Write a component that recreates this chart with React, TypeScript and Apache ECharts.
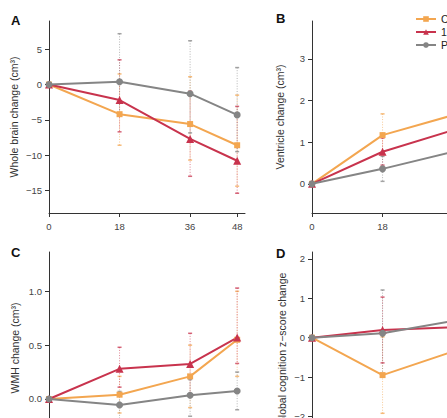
import React, { useEffect, useRef } from "react";
import * as echarts from "echarts";

// Visit months (shared x positions)
const months = [0, 18, 36, 48];
const xTicks = [0, 18, 36, 48];

// Group names and colours
const groups = ["CEE", "17β-E2", "Placebo"];
const groupColors = ["#F3A650", "#C8334D", "#858585"];
const groupSymbols = ["rect", "triangle", "circle"];
const groupSymbolSizes = [6, 8, 7];

// A: whole brain change (cm³)
const ceeBrain = [0, -4.2, -5.6, -8.6];
const e2Brain = [0, -2.2, -7.7, -10.8];
const plaBrain = [0, 0.4, -1.3, -4.3];
const ceeBrainLo = [0, -8.6, -10.7, -14.4];
const ceeBrainHi = [0, 1.5, 1.1, -1.5];
const e2BrainLo = [0, -6.7, -13.0, -15.4];
const e2BrainHi = [0, 3.5, -0.95, -3.1];
const plaBrainLo = [0, -4.4, -6.85, -9.5];
const plaBrainHi = [0, 7.2, 6.2, 2.4];

// B: ventricle change (cm³)
const ceeVent = [0, 1.17, 1.65, 2.1];
const e2Vent = [0, 0.77, 1.29, 1.7];
const plaVent = [0, 0.36, 0.77, 1.05];
const ceeVentLo = [0, 0.7, 1.0, 1.3];
const ceeVentHi = [0, 1.68, 2.3, 2.9];
const e2VentLo = [0, 0.45, 0.8, 1.0];
const e2VentHi = [0, 1.1, 1.8, 2.4];
const plaVentLo = [0, 0.06, 0.35, 0.5];
const plaVentHi = [0, 0.66, 1.2, 1.6];

// C: WMH change (cm³)
const ceeWmh = [0, 0.04, 0.21, 0.55];
const e2Wmh = [0, 0.28, 0.325, 0.57];
const plaWmh = [0, -0.055, 0.034, 0.074];
const ceeWmhLo = [0, -0.13, -0.08, 0.21];
const ceeWmhHi = [0, 0.21, 0.5, 1.0];
const e2WmhLo = [0, 0.11, 0.04, 0.33];
const e2WmhHi = [0, 0.48, 0.61, 1.03];
const plaWmhLo = [0, -0.2, -0.16, -0.1];
const plaWmhHi = [0, 0.07, 0.18, 0.25];

// D: global cognition z-score change
const ceeCog = [0, -0.95, -0.35, -0.2];
const e2Cog = [0, 0.195, 0.265, 0.3];
const plaCog = [0, 0.11, 0.425, 0.35];
const ceeCogLo = [0, -1.92, -1.3, -1.2];
const ceeCogHi = [0, 0.02, 0.6, 0.8];
const e2CogLo = [0, -0.64, -0.6, -0.6];
const e2CogHi = [0, 1.03, 1.1, 1.2];
const plaCogLo = [0, -0.99, -0.4, -0.5];
const plaCogHi = [0, 1.21, 1.25, 1.2];

const FONT = "'Liberation Sans', Arial, Helvetica, sans-serif";
const AXIS_COLOR = "#333";

const minus = (s: string) => s.replace("-", "\u2212");
const intFmt = (v: number) => minus(String(v));
const oneFmt = (v: number) => minus(v.toFixed(1));

type Panel = {
  means: number[][];
  lows: number[][];
  highs: number[][];
};

const panels: Panel[] = [
  {
    means: [ceeBrain, e2Brain, plaBrain],
    lows: [ceeBrainLo, e2BrainLo, plaBrainLo],
    highs: [ceeBrainHi, e2BrainHi, plaBrainHi],
  },
  {
    means: [ceeVent, e2Vent, plaVent],
    lows: [ceeVentLo, e2VentLo, plaVentLo],
    highs: [ceeVentHi, e2VentHi, plaVentHi],
  },
  {
    means: [ceeWmh, e2Wmh, plaWmh],
    lows: [ceeWmhLo, e2WmhLo, plaWmhLo],
    highs: [ceeWmhHi, e2WmhHi, plaWmhHi],
  },
  {
    means: [ceeCog, e2Cog, plaCog],
    lows: [ceeCogLo, e2CogLo, plaCogLo],
    highs: [ceeCogHi, e2CogHi, plaCogHi],
  },
];

const grids = [
  { left: 49, top: 21, width: 196, height: 192 },
  { left: 312, top: 21, width: 196, height: 192 },
  { left: 49, top: 252, width: 196, height: 192 },
  { left: 312, top: 252, width: 196, height: 194 },
];

function yAxis(
  gridIndex: number,
  min: number,
  max: number,
  ticks: number[],
  name: string,
  nameGap: number,
  fmt: (v: number) => string
) {
  return {
    type: "value",
    gridIndex,
    min,
    max,
    name,
    nameLocation: "middle",
    nameGap,
    nameTextStyle: { fontSize: 10.5, color: "#333", fontFamily: FONT },
    axisLine: { show: true, lineStyle: { color: AXIS_COLOR, width: 1 } },
    axisTick: {
      show: true,
      length: 4,
      customValues: ticks,
      lineStyle: { color: AXIS_COLOR, width: 1 },
    },
    axisLabel: {
      customValues: ticks,
      formatter: fmt,
      fontSize: 9.5,
      color: "#444",
      fontFamily: FONT,
      margin: 7,
    },
    splitLine: { show: false },
  };
}

// Bottom-row x axes sit below the visible area, so their labels are not drawn
function xAxis(gridIndex: number, showLabels: boolean) {
  return {
    type: "value",
    gridIndex,
    min: 0,
    max: 50,
    axisLine: { show: true, onZero: false, lineStyle: { color: AXIS_COLOR, width: 1 } },
    axisTick: {
      show: true,
      length: 4,
      customValues: xTicks,
      lineStyle: { color: AXIS_COLOR, width: 1 },
    },
    axisLabel: {
      show: showLabels,
      customValues: xTicks,
      formatter: (v: number) => String(v),
      fontSize: 9.5,
      color: "#444",
      fontFamily: FONT,
      margin: 8,
    },
    splitLine: { show: false },
  };
}

function errorBarSeries(p: number, g: number, panel: Panel) {
  const color = groupColors[g];
  const data = months
    .map((m, i) => [m, panel.lows[g][i], panel.highs[g][i]])
    .filter((d) => d[1] !== d[2]);
  return {
    type: "custom",
    name: `err-${p}-${g}`,
    xAxisIndex: p,
    yAxisIndex: p,
    z: 1,
    silent: true,
    clip: false,
    encode: { x: 0, y: [1, 2] },
    data,
    renderItem: (_params: any, api: any) => {
      const x = api.value(0);
      const top = api.coord([x, api.value(2)]);
      const bot = api.coord([x, api.value(1)]);
      return {
        type: "group",
        children: [
          {
            type: "line",
            shape: { x1: top[0], y1: top[1], x2: bot[0], y2: bot[1] },
            style: { stroke: color, lineWidth: 1, lineDash: [1, 1.6], opacity: 0.6 },
          },
          {
            type: "line",
            shape: { x1: top[0] - 2, y1: top[1], x2: top[0] + 2, y2: top[1] },
            style: { stroke: color, lineWidth: 1.5, opacity: 0.75 },
          },
          {
            type: "line",
            shape: { x1: bot[0] - 2, y1: bot[1], x2: bot[0] + 2, y2: bot[1] },
            style: { stroke: color, lineWidth: 1.5, opacity: 0.75 },
          },
        ],
      };
    },
  };
}

function lineSeries(p: number, g: number, panel: Panel) {
  return {
    type: "line",
    name: groups[g],
    xAxisIndex: p,
    yAxisIndex: p,
    z: 3,
    clip: false,
    data: months.map((m, i) => [m, panel.means[g][i]]),
    symbol: groupSymbols[g],
    symbolSize: groupSymbolSizes[g],
    showSymbol: true,
    itemStyle: { color: groupColors[g] },
    lineStyle: { color: groupColors[g], width: 2 },
  };
}

export default function App() {
  const ref = useRef<HTMLDivElement>(null);

  useEffect(() => {
    if (!ref.current) return;
    const chart = echarts.init(ref.current, undefined, { renderer: "svg" });

    const series: any[] = [];
    panels.forEach((panel, p) => {
      for (let g = 0; g < 3; g++) series.push(errorBarSeries(p, g, panel));
    });
    panels.forEach((panel, p) => {
      for (let g = 0; g < 3; g++) series.push(lineSeries(p, g, panel));
    });

    const panelLetter = (text: string, x: number, y: number) => ({
      type: "text",
      x,
      y,
      style: {
        text,
        font: `bold 13px ${FONT}`,
        fill: "#111",
        textVerticalAlign: "middle",
      },
    });

    chart.setOption({
      animation: false,
      backgroundColor: "#ffffff",
      textStyle: { fontFamily: FONT },
      grid: grids.map((g) => ({ ...g, containLabel: false, outerBoundsMode: "none" })),
      xAxis: [xAxis(0, true), xAxis(1, true), xAxis(2, false), xAxis(3, false)],
      yAxis: [
        yAxis(0, -18.2, 9, [-15, -10, -5, 0, 5], "Whole brain change (cm³)", 30, intFmt),
        yAxis(1, -0.7, 3.91, [0, 1, 2, 3], "Ventricle change (cm³)", 27, intFmt),
        yAxis(2, -0.418, 1.365, [0, 0.5, 1], "WMH change (cm³)", 29, oneFmt),
        yAxis(3, -2.75, 2.175, [-2, -1, 0, 1, 2], "Global cognition z\u2212score change", 25, intFmt),
      ],
      legend: {
        data: groups,
        orient: "vertical",
        left: 415,
        top: 13,
        padding: 0,
        itemWidth: 20,
        itemHeight: 7,
        itemGap: 1,
        textStyle: { fontSize: 10.5, lineHeight: 12, color: "#222", fontFamily: FONT },
      },
      graphic: [
        panelLetter("A", 11, 20),
        panelLetter("B", 276, 18),
        panelLetter("C", 11, 252),
        panelLetter("D", 276, 253),
      ],
      series,
    });

    return () => chart.dispose();
  }, []);

  return (
    <div
      ref={ref}
      style={{ position: "absolute", left: 0, top: 0, width: 447, height: 418, overflow: "hidden" }}
    />
  );
}
